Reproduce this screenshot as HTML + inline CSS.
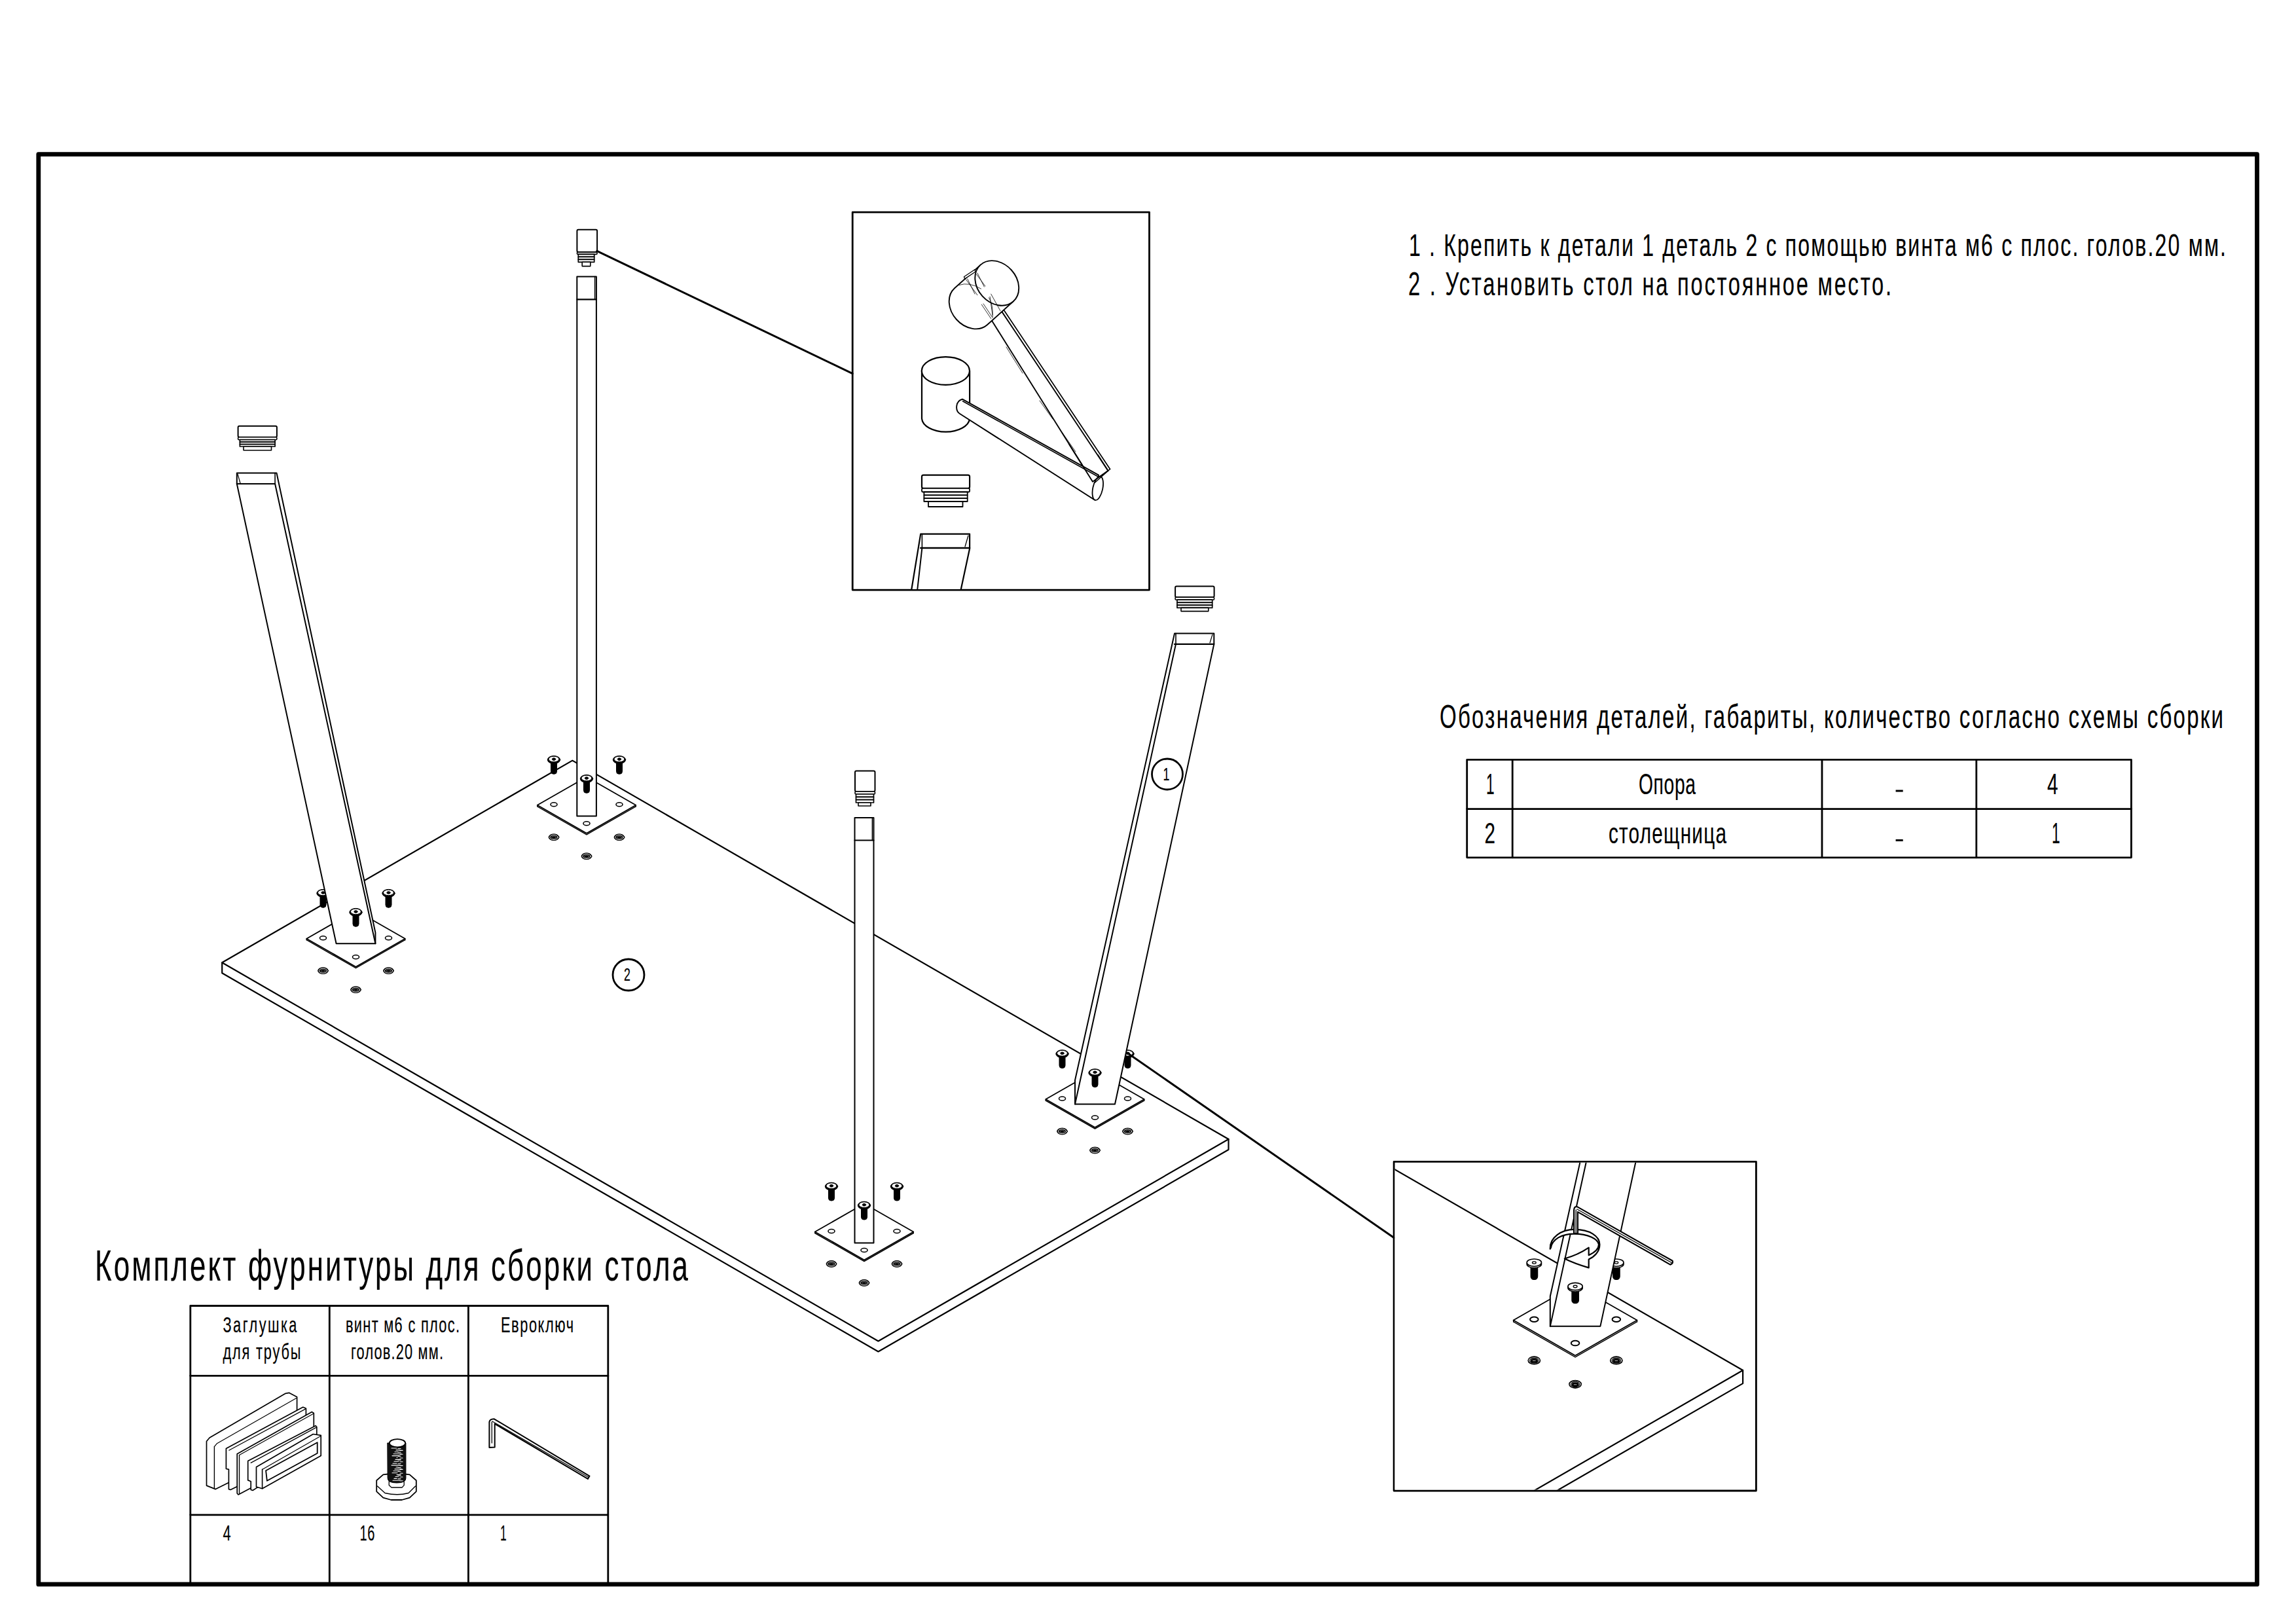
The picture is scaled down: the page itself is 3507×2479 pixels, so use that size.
<!DOCTYPE html><html><head><meta charset="utf-8"><style>html,body{margin:0;padding:0;background:#fff;}svg{display:block;}text{font-family:"Liberation Sans",sans-serif;fill:#000;}#scene *,#scene2 *{vector-effect:non-scaling-stroke}</style></head><body>
<svg width="3507" height="2479" viewBox="0 0 3507 2479">
<defs>
<g id="ph"><ellipse cx="0" cy="0" rx="5" ry="3" fill="#fff" stroke="#000" stroke-width="1.6"/></g>
<g id="cs"><ellipse cx="0" cy="0" rx="7.9" ry="4.9" fill="#000"/><ellipse cx="0" cy="0.1" rx="6.2" ry="3.6" fill="none" stroke="#fff" stroke-width="0.9"/><ellipse cx="0" cy="0.3" rx="3.6" ry="1.9" fill="none" stroke="#999" stroke-width="0.6"/></g>
<g id="sc"><rect x="-4.5" y="2" width="9" height="20.5" rx="4" fill="#000"/><ellipse cx="0" cy="0.7" rx="9.7" ry="6" fill="#000"/><ellipse cx="0" cy="-0.3" rx="8" ry="4.3" fill="#fff"/><ellipse cx="0" cy="-0.2" rx="2.7" ry="1.8" fill="#000"/></g>
<clipPath id="cb2"><rect x="2130.5" y="1775.8" width="550.5" height="499.8"/></clipPath>
<g id="scene" stroke="#000" fill="none" stroke-linejoin="round" stroke-linecap="round"><polygon points="339.2,1470.3 874.3,1161.6 1876.5,1740 1876.5,1756 1341.5,2064.5 339.2,1486.3" stroke-width="2.2" fill="#fff"/>
<polyline points="339.2,1470.3 1341.5,2048.5 1876.5,1740" stroke-width="2.2" fill="none"/>
<polygon points="468.3,1433.7 543.5,1390.7 618.7,1433.7 543.5,1476.7" stroke-width="1.8" fill="#fff"/>
<polyline points="468.3,1435.7 543.5,1478.7 618.7,1435.7" stroke-width="1.5" fill="none"/>
<line x1="468.3" y1="1433.7" x2="468.3" y2="1435.7" stroke-width="1.5"/>
<line x1="618.7" y1="1433.7" x2="618.7" y2="1435.7" stroke-width="1.5"/>
<use href="#ph" x="493.5" y="1432.7"/>
<use href="#ph" x="593.5" y="1432.7"/>
<use href="#ph" x="543.5" y="1461.7"/>
<use href="#cs" x="493.5" y="1482.7"/>
<use href="#cs" x="593.5" y="1482.7"/>
<use href="#cs" x="543.5" y="1511.7"/>
<polygon points="820.8,1229.8 896,1186.8 971.2,1229.8 896,1272.8" stroke-width="1.8" fill="#fff"/>
<polyline points="820.8,1231.8 896,1274.8 971.2,1231.8" stroke-width="1.5" fill="none"/>
<line x1="820.8" y1="1229.8" x2="820.8" y2="1231.8" stroke-width="1.5"/>
<line x1="971.2" y1="1229.8" x2="971.2" y2="1231.8" stroke-width="1.5"/>
<use href="#ph" x="846" y="1228.8"/>
<use href="#ph" x="946" y="1228.8"/>
<use href="#ph" x="896" y="1257.8"/>
<use href="#cs" x="846" y="1278.8"/>
<use href="#cs" x="946" y="1278.8"/>
<use href="#cs" x="896" y="1307.8"/>
<polygon points="1244.8,1881.5 1320,1838.5 1395.2,1881.5 1320,1924.5" stroke-width="1.8" fill="#fff"/>
<polyline points="1244.8,1883.5 1320,1926.5 1395.2,1883.5" stroke-width="1.5" fill="none"/>
<line x1="1244.8" y1="1881.5" x2="1244.8" y2="1883.5" stroke-width="1.5"/>
<line x1="1395.2" y1="1881.5" x2="1395.2" y2="1883.5" stroke-width="1.5"/>
<use href="#ph" x="1270" y="1880.5"/>
<use href="#ph" x="1370" y="1880.5"/>
<use href="#ph" x="1320" y="1909.5"/>
<use href="#cs" x="1270" y="1930.5"/>
<use href="#cs" x="1370" y="1930.5"/>
<use href="#cs" x="1320" y="1959.5"/>
<polygon points="1597.3,1679 1672.5,1636 1747.7,1679 1672.5,1722" stroke-width="1.8" fill="#fff"/>
<polyline points="1597.3,1681 1672.5,1724 1747.7,1681" stroke-width="1.5" fill="none"/>
<line x1="1597.3" y1="1679" x2="1597.3" y2="1681" stroke-width="1.5"/>
<line x1="1747.7" y1="1679" x2="1747.7" y2="1681" stroke-width="1.5"/>
<use href="#ph" x="1622.5" y="1678"/>
<use href="#ph" x="1722.5" y="1678"/>
<use href="#ph" x="1672.5" y="1707"/>
<use href="#cs" x="1622.5" y="1728"/>
<use href="#cs" x="1722.5" y="1728"/>
<use href="#cs" x="1672.5" y="1757"/>
<polygon points="881.3,422.5 910.9,422.5 910.9,1246.4 881.3,1246.4" stroke-width="2" fill="#fff"/>
<line x1="881.3" y1="457.3" x2="910.9" y2="457.3" stroke-width="2.2"/>
<line x1="908.6" y1="422.5" x2="908.6" y2="457.3" stroke-width="1.5"/>
<use href="#sc" x="846" y="1159.8"/>
<use href="#sc" x="946" y="1159.8"/>
<use href="#sc" x="896" y="1188.8"/>
<use href="#sc" x="493.5" y="1363.7"/>
<use href="#sc" x="593.5" y="1363.7"/>
<polygon points="361.8,739 361.8,722.5 422.5,722.5 573.4,1424.4 573.4,1441.3 513.6,1441.3" stroke-width="2" fill="#fff"/>
<line x1="361.8" y1="739" x2="420.1" y2="739" stroke-width="2.2"/>
<line x1="420.1" y1="722.5" x2="420.1" y2="739" stroke-width="1.6"/>
<line x1="420.1" y1="739" x2="573.4" y2="1441.3" stroke-width="2"/>
<line x1="363" y1="724" x2="367" y2="738" stroke-width="1.2"/>
<use href="#sc" x="543.5" y="1392.7"/>
<polygon points="1305.5,1249 1334.5,1249 1334.5,1898.5 1305.5,1898.5" stroke-width="2" fill="#fff"/>
<line x1="1305.5" y1="1283.5" x2="1334.5" y2="1283.5" stroke-width="2.2"/>
<line x1="1332.4" y1="1249" x2="1332.4" y2="1283.5" stroke-width="1.5"/>
<use href="#sc" x="1270" y="1811.5"/>
<use href="#sc" x="1370" y="1811.5"/>
<use href="#sc" x="1320" y="1840.5"/>
<use href="#sc" x="1622.5" y="1609"/>
<use href="#sc" x="1722.5" y="1609"/>
<polygon points="1794,967.6 1854.3,967.6 1854.3,983.9 1703,1686.5 1642,1686.5 1642,1650" stroke-width="2" fill="#fff"/>
<line x1="1794" y1="983.9" x2="1854.3" y2="983.9" stroke-width="2.2"/>
<line x1="1796" y1="967.6" x2="1796" y2="983.9" stroke-width="1.6"/>
<line x1="1796" y1="983.9" x2="1642" y2="1686.5" stroke-width="2"/>
<line x1="1852" y1="969" x2="1848" y2="982" stroke-width="1.2"/>
<use href="#sc" x="1672.5" y="1638"/>
<rect x="363.6" y="650.7" width="59.3" height="17" rx="2" stroke-width="2" fill="#fff"/>
<rect x="363.6" y="667.7" width="59.3" height="4" rx="1.5" stroke-width="1.6" fill="#fff"/>
<rect x="366.4" y="671.7" width="53.7" height="3.4" stroke-width="1.7" fill="#fff"/>
<rect x="366.4" y="675.1" width="53.7" height="3.4" stroke-width="1.7" fill="#fff"/>
<rect x="366.4" y="678.6" width="53.7" height="3.4" stroke-width="1.7" fill="#fff"/>
<rect x="372" y="682" width="42.5" height="5.7" stroke-width="1.6" fill="#fff"/>
<rect x="881.4" y="350.7" width="30.7" height="34.4" rx="2" stroke-width="2" fill="#fff"/>
<rect x="881.4" y="385.1" width="30.7" height="3.3" rx="1.5" stroke-width="1.6" fill="#fff"/>
<rect x="883.3" y="388.4" width="24.4" height="4" stroke-width="1.7" fill="#fff"/>
<rect x="883.3" y="392.4" width="24.4" height="4" stroke-width="1.7" fill="#fff"/>
<rect x="883.3" y="396.3" width="24.4" height="4" stroke-width="1.7" fill="#fff"/>
<rect x="889.2" y="400.3" width="12.6" height="6.3" stroke-width="1.6" fill="#fff"/>
<rect x="1306" y="1177.5" width="30.5" height="31.5" rx="2" stroke-width="2" fill="#fff"/>
<rect x="1306" y="1209" width="30.5" height="4" rx="1.5" stroke-width="1.6" fill="#fff"/>
<rect x="1307.5" y="1213" width="27" height="4.3" stroke-width="1.7" fill="#fff"/>
<rect x="1307.5" y="1217.3" width="27" height="4.3" stroke-width="1.7" fill="#fff"/>
<rect x="1307.5" y="1221.7" width="27" height="4.3" stroke-width="1.7" fill="#fff"/>
<rect x="1311" y="1226" width="19" height="5" stroke-width="1.6" fill="#fff"/>
<rect x="1795.1" y="895.5" width="59.5" height="16.7" rx="2" stroke-width="2" fill="#fff"/>
<rect x="1795.1" y="912.2" width="59.5" height="4" rx="1.5" stroke-width="1.6" fill="#fff"/>
<rect x="1798" y="916.2" width="53.7" height="4.1" stroke-width="1.7" fill="#fff"/>
<rect x="1798" y="920.3" width="53.7" height="4.1" stroke-width="1.7" fill="#fff"/>
<rect x="1798" y="924.3" width="53.7" height="4.1" stroke-width="1.7" fill="#fff"/>
<rect x="1804" y="928.4" width="41.8" height="5.2" stroke-width="1.6" fill="#fff"/></g>
<g id="sc2"><rect x="-4.1" y="1" width="8.3" height="19.5" rx="3.6" fill="#000"/><ellipse cx="0" cy="1.7" rx="8.9" ry="4.7" fill="#fff" stroke="#000" stroke-width="1.3"/><ellipse cx="0" cy="0" rx="8.9" ry="4.5" fill="#fff" stroke="#000" stroke-width="1.3"/><ellipse cx="0" cy="0" rx="2.3" ry="1.4" fill="#fff" stroke="#000" stroke-width="1.1"/></g>
<g id="cs2"><ellipse cx="0" cy="0" rx="7.3" ry="4.6" fill="#fff" stroke="#000" stroke-width="1.3"/><ellipse cx="0" cy="0.2" rx="5.4" ry="3.2" fill="none" stroke="#000" stroke-width="0.9"/><ellipse cx="0" cy="0.4" rx="4" ry="2.2" fill="#000"/><line x1="-1.5" y1="0.4" x2="1.5" y2="0.4" stroke="#fff" stroke-width="0.6"/></g>
<g id="scene2" stroke="#000" fill="none" stroke-linejoin="round" stroke-linecap="round"><polygon points="339.2,1470.3 874.3,1161.6 1876.5,1740 1876.5,1756 1341.5,2064.5 339.2,1486.3" stroke-width="2.2" fill="#fff"/>
<polyline points="339.2,1470.3 1341.5,2048.5 1876.5,1740" stroke-width="2.2" fill="none"/>
<polygon points="468.3,1433.7 543.5,1390.7 618.7,1433.7 543.5,1476.7" stroke-width="1.8" fill="#fff"/>
<polyline points="468.3,1435.7 543.5,1478.7 618.7,1435.7" stroke-width="1.5" fill="none"/>
<line x1="468.3" y1="1433.7" x2="468.3" y2="1435.7" stroke-width="1.5"/>
<line x1="618.7" y1="1433.7" x2="618.7" y2="1435.7" stroke-width="1.5"/>
<use href="#ph" x="493.5" y="1432.7"/>
<use href="#ph" x="593.5" y="1432.7"/>
<use href="#ph" x="543.5" y="1461.7"/>
<use href="#cs2" x="493.5" y="1482.7"/>
<use href="#cs2" x="593.5" y="1482.7"/>
<use href="#cs2" x="543.5" y="1511.7"/>
<polygon points="820.8,1229.8 896,1186.8 971.2,1229.8 896,1272.8" stroke-width="1.8" fill="#fff"/>
<polyline points="820.8,1231.8 896,1274.8 971.2,1231.8" stroke-width="1.5" fill="none"/>
<line x1="820.8" y1="1229.8" x2="820.8" y2="1231.8" stroke-width="1.5"/>
<line x1="971.2" y1="1229.8" x2="971.2" y2="1231.8" stroke-width="1.5"/>
<use href="#ph" x="846" y="1228.8"/>
<use href="#ph" x="946" y="1228.8"/>
<use href="#ph" x="896" y="1257.8"/>
<use href="#cs2" x="846" y="1278.8"/>
<use href="#cs2" x="946" y="1278.8"/>
<use href="#cs2" x="896" y="1307.8"/>
<polygon points="1244.8,1881.5 1320,1838.5 1395.2,1881.5 1320,1924.5" stroke-width="1.8" fill="#fff"/>
<polyline points="1244.8,1883.5 1320,1926.5 1395.2,1883.5" stroke-width="1.5" fill="none"/>
<line x1="1244.8" y1="1881.5" x2="1244.8" y2="1883.5" stroke-width="1.5"/>
<line x1="1395.2" y1="1881.5" x2="1395.2" y2="1883.5" stroke-width="1.5"/>
<use href="#ph" x="1270" y="1880.5"/>
<use href="#ph" x="1370" y="1880.5"/>
<use href="#ph" x="1320" y="1909.5"/>
<use href="#cs2" x="1270" y="1930.5"/>
<use href="#cs2" x="1370" y="1930.5"/>
<use href="#cs2" x="1320" y="1959.5"/>
<polygon points="1597.3,1679 1672.5,1636 1747.7,1679 1672.5,1722" stroke-width="1.8" fill="#fff"/>
<polyline points="1597.3,1681 1672.5,1724 1747.7,1681" stroke-width="1.5" fill="none"/>
<line x1="1597.3" y1="1679" x2="1597.3" y2="1681" stroke-width="1.5"/>
<line x1="1747.7" y1="1679" x2="1747.7" y2="1681" stroke-width="1.5"/>
<use href="#ph" x="1622.5" y="1678"/>
<use href="#ph" x="1722.5" y="1678"/>
<use href="#ph" x="1672.5" y="1707"/>
<use href="#cs2" x="1622.5" y="1728"/>
<use href="#cs2" x="1722.5" y="1728"/>
<use href="#cs2" x="1672.5" y="1757"/>
<polygon points="881.3,422.5 910.9,422.5 910.9,1246.4 881.3,1246.4" stroke-width="2" fill="#fff"/>
<line x1="881.3" y1="457.3" x2="910.9" y2="457.3" stroke-width="2.2"/>
<line x1="908.6" y1="422.5" x2="908.6" y2="457.3" stroke-width="1.5"/>
<use href="#sc2" x="846" y="1159.8"/>
<use href="#sc2" x="946" y="1159.8"/>
<use href="#sc2" x="896" y="1188.8"/>
<use href="#sc2" x="493.5" y="1363.7"/>
<use href="#sc2" x="593.5" y="1363.7"/>
<polygon points="361.8,739 361.8,722.5 422.5,722.5 573.4,1424.4 573.4,1441.3 513.6,1441.3" stroke-width="2" fill="#fff"/>
<line x1="361.8" y1="739" x2="420.1" y2="739" stroke-width="2.2"/>
<line x1="420.1" y1="722.5" x2="420.1" y2="739" stroke-width="1.6"/>
<line x1="420.1" y1="739" x2="573.4" y2="1441.3" stroke-width="2"/>
<line x1="363" y1="724" x2="367" y2="738" stroke-width="1.2"/>
<use href="#sc2" x="543.5" y="1392.7"/>
<polygon points="1305.5,1249 1334.5,1249 1334.5,1898.5 1305.5,1898.5" stroke-width="2" fill="#fff"/>
<line x1="1305.5" y1="1283.5" x2="1334.5" y2="1283.5" stroke-width="2.2"/>
<line x1="1332.4" y1="1249" x2="1332.4" y2="1283.5" stroke-width="1.5"/>
<use href="#sc2" x="1270" y="1811.5"/>
<use href="#sc2" x="1370" y="1811.5"/>
<use href="#sc2" x="1320" y="1840.5"/>
<use href="#sc2" x="1622.5" y="1609"/>
<use href="#sc2" x="1722.5" y="1609"/>
<polygon points="1794,967.6 1854.3,967.6 1854.3,983.9 1703,1686.5 1642,1686.5 1642,1650" stroke-width="2" fill="#fff"/>
<line x1="1794" y1="983.9" x2="1854.3" y2="983.9" stroke-width="2.2"/>
<line x1="1796" y1="967.6" x2="1796" y2="983.9" stroke-width="1.6"/>
<line x1="1796" y1="983.9" x2="1642" y2="1686.5" stroke-width="2"/>
<line x1="1852" y1="969" x2="1848" y2="982" stroke-width="1.2"/>
<use href="#sc2" x="1672.5" y="1638"/>
<rect x="363.6" y="650.7" width="59.3" height="17" rx="2" stroke-width="2" fill="#fff"/>
<rect x="363.6" y="667.7" width="59.3" height="4" rx="1.5" stroke-width="1.6" fill="#fff"/>
<rect x="366.4" y="671.7" width="53.7" height="3.4" stroke-width="1.7" fill="#fff"/>
<rect x="366.4" y="675.1" width="53.7" height="3.4" stroke-width="1.7" fill="#fff"/>
<rect x="366.4" y="678.6" width="53.7" height="3.4" stroke-width="1.7" fill="#fff"/>
<rect x="372" y="682" width="42.5" height="5.7" stroke-width="1.6" fill="#fff"/>
<rect x="881.4" y="350.7" width="30.7" height="34.4" rx="2" stroke-width="2" fill="#fff"/>
<rect x="881.4" y="385.1" width="30.7" height="3.3" rx="1.5" stroke-width="1.6" fill="#fff"/>
<rect x="883.3" y="388.4" width="24.4" height="4" stroke-width="1.7" fill="#fff"/>
<rect x="883.3" y="392.4" width="24.4" height="4" stroke-width="1.7" fill="#fff"/>
<rect x="883.3" y="396.3" width="24.4" height="4" stroke-width="1.7" fill="#fff"/>
<rect x="889.2" y="400.3" width="12.6" height="6.3" stroke-width="1.6" fill="#fff"/>
<rect x="1306" y="1177.5" width="30.5" height="31.5" rx="2" stroke-width="2" fill="#fff"/>
<rect x="1306" y="1209" width="30.5" height="4" rx="1.5" stroke-width="1.6" fill="#fff"/>
<rect x="1307.5" y="1213" width="27" height="4.3" stroke-width="1.7" fill="#fff"/>
<rect x="1307.5" y="1217.3" width="27" height="4.3" stroke-width="1.7" fill="#fff"/>
<rect x="1307.5" y="1221.7" width="27" height="4.3" stroke-width="1.7" fill="#fff"/>
<rect x="1311" y="1226" width="19" height="5" stroke-width="1.6" fill="#fff"/>
<rect x="1795.1" y="895.5" width="59.5" height="16.7" rx="2" stroke-width="2" fill="#fff"/>
<rect x="1795.1" y="912.2" width="59.5" height="4" rx="1.5" stroke-width="1.6" fill="#fff"/>
<rect x="1798" y="916.2" width="53.7" height="4.1" stroke-width="1.7" fill="#fff"/>
<rect x="1798" y="920.3" width="53.7" height="4.1" stroke-width="1.7" fill="#fff"/>
<rect x="1798" y="924.3" width="53.7" height="4.1" stroke-width="1.7" fill="#fff"/>
<rect x="1804" y="928.4" width="41.8" height="5.2" stroke-width="1.6" fill="#fff"/></g>
</defs>
<rect width="3507" height="2479" fill="#fff"/>
<g stroke="#000" fill="none" stroke-linejoin="round" stroke-linecap="round">
<rect x="58.8" y="235.6" width="3388.7" height="2184.3" stroke-width="6.8"/>
</g>
<use href="#scene"/>
<g stroke="#000" fill="none" stroke-linejoin="round" stroke-linecap="round">
<line x1="911.8" y1="383.3" x2="1302.2" y2="570.6" stroke-width="3"/>
<line x1="1723" y1="1609" x2="2129.1" y2="1890.6" stroke-width="3"/>
<rect x="1302.2" y="324.1" width="453.3" height="577" stroke-width="2.8" fill="none"/>
<rect x="2129.1" y="1774.4" width="553.3" height="502.6" stroke-width="2.8" fill="none"/>
<circle cx="1783" cy="1182.5" r="23.5" stroke-width="2.8" fill="#fff"/>
<circle cx="960" cy="1489" r="24" stroke-width="2.8" fill="#fff"/>
<rect x="2240.7" y="1160.4" width="1014.7" height="149.4" stroke-width="2.8"/>
<line x1="2240.7" y1="1235.6" x2="3255.4" y2="1235.6" stroke-width="2.8"/>
<line x1="2310.2" y1="1160.4" x2="2310.2" y2="1309.8" stroke-width="2.8"/>
<line x1="2783" y1="1160.4" x2="2783" y2="1309.8" stroke-width="2.8"/>
<line x1="3018.8" y1="1160.4" x2="3018.8" y2="1309.8" stroke-width="2.8"/>
<rect x="290.8" y="1994.5" width="638" height="425" stroke-width="2.8"/>
<line x1="290.8" y1="2101.3" x2="928.8" y2="2101.3" stroke-width="2.8"/>
<line x1="290.8" y1="2313.8" x2="928.8" y2="2313.8" stroke-width="2.8"/>
<line x1="503.3" y1="1994.5" x2="503.3" y2="2420" stroke-width="2.8"/>
<line x1="715.4" y1="1994.5" x2="715.4" y2="2420" stroke-width="2.8"/>
</g>
<g stroke="#000" fill="#fff" stroke-linejoin="round" stroke-linecap="round">
<polygon points="1513.7,487.7 1530,475.6 1692.5,719 1669,735.7" stroke-width="1.9" fill="#fff"/>
<line x1="1533.8" y1="474.2" x2="1695.5" y2="716.5" stroke-width="1.7"/>
<line x1="1537" y1="530" x2="1562" y2="570" stroke-width="0.8"/>
<line x1="1588" y1="612" x2="1608" y2="640" stroke-width="0.8"/>
<line x1="1622" y1="660" x2="1643" y2="690" stroke-width="0.8"/>
<path d="M1497.7,404.6 L1458,440.3 A37.45,29.8 48 0 0 1461,488 A37.45,29.8 48 0 0 1508.1,496 L1547.8,460.3 Z" stroke-width="1.9"/>
<ellipse cx="1522.75" cy="432.45" rx="37.45" ry="29.8" transform="rotate(48 1522.75 432.45)" stroke-width="1.9"/>
<g stroke-width="0.8" fill="none"><path d="M1464.8,435.5 Q1480,430 1498.5,441.1"/><line x1="1475.3" y1="426.7" x2="1492.9" y2="450.7"/><line x1="1477.7" y1="425.9" x2="1489" y2="449"/><line x1="1491.3" y1="418.7" x2="1504.9" y2="437.1"/><line x1="1492.9" y1="417.1" x2="1503.3" y2="438"/><line x1="1513.7" y1="449.1" x2="1528" y2="474.8"/><line x1="1512.1" y1="453.1" x2="1516" y2="481"/><line x1="1499.3" y1="465.1" x2="1513.7" y2="486.6"/><line x1="1502" y1="464" x2="1516.3" y2="485.5"/><path d="M1510.5,454.7 Q1517,465 1516.2,483.6"/></g>
<path d="M1472.5,422.7 L1488.9,411.8 L1490,415 L1473.7,425.9 Z" stroke-width="1.3"/>
<path d="M1408,566.5 L1408,639.4 A36.6,21.4 0 0 0 1481.1,639.4 L1481.1,566.5 Z" stroke-width="2.2"/>
<ellipse cx="1444.4" cy="566.5" rx="36.6" ry="21.4" stroke-width="2.2"/>
<path d="M1469.9,609.7 L1678,725.6 L1672.3,763.8 L1466.5,632.2 C1458,627 1460,612 1469.9,609.7 Z" stroke-width="1.9"/>
<line x1="1470.5" y1="612.8" x2="1678.5" y2="728.8" stroke-width="1.6"/>
<ellipse cx="1676.8" cy="745.8" rx="7.5" ry="18.5" transform="rotate(12 1676.8 745.8)" stroke-width="1.8"/>
<polyline points="1633,678.5 1669,735.7 1692.5,719 1677,695" fill="none" stroke-width="1.9"/>
<line x1="1672" y1="737.5" x2="1695.5" y2="716.5" stroke-width="1.5"/>
<rect x="1408" y="725.6" width="73.1" height="20.3" rx="2.5" stroke-width="2.2"/>
<rect x="1408" y="745.9" width="73.1" height="5.6" rx="2" stroke-width="1.8"/>
<rect x="1411.4" y="751.5" width="66.3" height="4.8" stroke-width="1.8"/>
<rect x="1411.4" y="756.3" width="66.3" height="4.8" stroke-width="1.8"/>
<rect x="1411.4" y="761.1" width="66.3" height="4.9" stroke-width="1.8"/>
<rect x="1418" y="766" width="52.5" height="8" stroke-width="1.8"/>
<path d="M1406.2,815.6 L1481.1,815.6 L1481.1,838 L1467.6,901 L1392.2,901 Z" stroke-width="2.2"/>
<line x1="1406.2" y1="837" x2="1481.1" y2="837" stroke-width="2.4"/>
<line x1="1408.4" y1="816" x2="1408.4" y2="837" stroke-width="1.6"/>
<line x1="1408.4" y1="837" x2="1401.2" y2="901" stroke-width="2"/>
<line x1="1479" y1="818" x2="1474" y2="835" stroke-width="1.3"/>
</g>
<g stroke="#000" fill="#fff" stroke-linejoin="round" stroke-linecap="round">
<polygon points="315.5,2201.5 320.1,2196 436.3,2128.3 441.8,2127.4 453.6,2133.8 453.6,2219.7 349.4,2264.6 329.3,2274.6 315.5,2269.1" stroke-width="1.7" fill="#fff"/>
<polyline points="327.4,2209.7 331.1,2205.1 452.7,2135.6" stroke-width="1.2" fill="none"/>
<line x1="327.4" y1="2209.7" x2="327.4" y2="2273.7" stroke-width="1.4"/>
<polygon points="345.4,2212.4 462.8,2149.3 467.4,2151.2 467.4,2223.4 361.3,2271 352.1,2275.5 349.4,2274.6 349.4,2244.4 345.4,2243.5" stroke-width="1.7" fill="#fff"/>
<line x1="349.8" y1="2215.2" x2="466.5" y2="2152.1" stroke-width="1.2"/>
<polygon points="362.2,2220.7 476.5,2156.6 479.3,2158.5 479.3,2227.1 381.4,2273.7 364,2282.9 362.2,2281" stroke-width="1.7" fill="#fff"/>
<line x1="365.5" y1="2222.5" x2="478.3" y2="2159.4" stroke-width="1.2"/>
<line x1="365.5" y1="2222.5" x2="365.5" y2="2281" stroke-width="1.4"/>
<polygon points="378.7,2231.6 482,2177.7 483.8,2179.5 483.8,2219.7 393.3,2271.9 386,2276.5 383.2,2275.5 383.2,2262.7 378.7,2260.9" stroke-width="1.7" fill="#fff"/>
<line x1="383.2" y1="2234.4" x2="482.9" y2="2180.4" stroke-width="1.2"/>
<polygon points="391.5,2240.8 478.3,2190.5 490.2,2192.3 490.2,2223.4 400.6,2273.7 391.5,2271" stroke-width="1.7" fill="#fff"/>
<polyline points="400.6,2244.4 490.2,2193.2" stroke-width="1.2" fill="none"/>
<line x1="400.6" y1="2244.4" x2="400.6" y2="2273.7" stroke-width="1.6"/>
<polygon points="406.1,2246.3 484.7,2203.3 484.7,2219.7 407.9,2261.8" stroke-width="1.8" fill="#fff"/>
<polygon points="575.2,2261.2 585.3,2252.4 597,2251 614,2251 625.7,2252.4 635.8,2261.2 635.8,2278.1 625.7,2287.6 613.8,2291 597.5,2291 585.3,2287.6 575.2,2278.1" stroke-width="1.8" fill="#fff"/>
<path d="M576.5,2270 L588,2280.5 Q607,2285 624,2280.5 L634.5,2270" fill="none" stroke-width="1.4"/>
<path d="M594.2,2258 L594.2,2268.6 L598,2272 L614,2272 L617.2,2268.6 L617.2,2258" fill="none" stroke-width="1.3"/>
<path d="M592.1,2204 L619.9,2204 L619.9,2258 Q619.9,2265 606,2265 Q592.1,2265 592.1,2258 Z" fill="#111" stroke-width="1"/>
<g stroke="#fff" stroke-width="1.1" fill="none"><line x1="598.0" y1="2212.0" x2="606.0" y2="2212.0"/><line x1="608.0" y1="2212.5" x2="612.0" y2="2212.5"/><line x1="605.0" y1="2214.9" x2="611.0" y2="2214.9"/><line x1="611.0" y1="2215.4" x2="615.0" y2="2215.4"/><line x1="603.0" y1="2217.8" x2="608.0" y2="2217.8"/><line x1="608.0" y1="2218.3" x2="612.0" y2="2218.3"/><line x1="601.0" y1="2220.7" x2="613.0" y2="2220.7"/><line x1="611.0" y1="2221.2" x2="615.0" y2="2221.2"/><line x1="599.0" y1="2223.6" x2="610.0" y2="2223.6"/><line x1="608.0" y1="2224.1" x2="612.0" y2="2224.1"/><line x1="606.0" y1="2226.5" x2="607.0" y2="2226.5"/><line x1="611.0" y1="2227.0" x2="615.0" y2="2227.0"/><line x1="604.0" y1="2229.4" x2="612.0" y2="2229.4"/><line x1="608.0" y1="2229.9" x2="612.0" y2="2229.9"/><line x1="602.0" y1="2232.3" x2="609.0" y2="2232.3"/><line x1="611.0" y1="2232.8" x2="615.0" y2="2232.8"/><line x1="600.0" y1="2235.2" x2="606.0" y2="2235.2"/><line x1="608.0" y1="2235.7" x2="612.0" y2="2235.7"/><line x1="598.0" y1="2238.1" x2="611.0" y2="2238.1"/><line x1="611.0" y1="2238.6" x2="615.0" y2="2238.6"/><line x1="605.0" y1="2241.0" x2="608.0" y2="2241.0"/><line x1="608.0" y1="2241.5" x2="612.0" y2="2241.5"/><line x1="603.0" y1="2243.9" x2="613.0" y2="2243.9"/><line x1="611.0" y1="2244.4" x2="615.0" y2="2244.4"/><line x1="601.0" y1="2246.8" x2="610.0" y2="2246.8"/><line x1="608.0" y1="2247.3" x2="612.0" y2="2247.3"/><line x1="599.0" y1="2249.7" x2="607.0" y2="2249.7"/><line x1="611.0" y1="2250.2" x2="615.0" y2="2250.2"/><line x1="606.0" y1="2252.6" x2="612.0" y2="2252.6"/><line x1="608.0" y1="2253.1" x2="612.0" y2="2253.1"/><line x1="604.0" y1="2255.5" x2="609.0" y2="2255.5"/><line x1="611.0" y1="2256.0" x2="615.0" y2="2256.0"/><line x1="602.0" y1="2258.4" x2="606.0" y2="2258.4"/><line x1="608.0" y1="2258.9" x2="612.0" y2="2258.9"/><line x1="600.0" y1="2261.3" x2="611.0" y2="2261.3"/><line x1="611.0" y1="2261.8" x2="615.0" y2="2261.8"/></g>
<ellipse cx="607" cy="2204.2" rx="12.2" ry="6.1" stroke-width="1.8"/>
<path d="M747.4,2172 Q748,2167.5 754.8,2167.3 L900.5,2254.6 L897.9,2258.9 L755.7,2174.8 L755.7,2210.4 L747.4,2211 Z" stroke-width="2"/>
<line x1="751.3" y1="2172" x2="751.3" y2="2204" stroke-width="1.3"/>
<line x1="752" y1="2171" x2="899" y2="2256.5" stroke-width="1.2"/>
</g>
<text transform="scale(0.66,1)" x="3260.6" y="391" font-size="48.5" stroke="#000" stroke-width="0.2" textLength="1890.9" lengthAdjust="spacing">1 . Крепить к детали 1 деталь 2 с помощью винта м6 с плос. голов.20 мм.</text>
<text transform="scale(0.66,1)" x="3259.1" y="451" font-size="49.5" stroke="#000" stroke-width="0.2" textLength="1118.2" lengthAdjust="spacing">2 . Установить стол на постоянное место.</text>
<text transform="scale(0.66,1)" x="3331.8" y="1112" font-size="50" stroke="#000" stroke-width="0.2" textLength="1813.6" lengthAdjust="spacing">Обозначения деталей, габариты, количество согласно схемы сборки</text>
<text transform="scale(0.5039118354094471,1)" x="4504.8" y="1212.6" font-size="45" stroke="#000" stroke-width="0.2" textLength="25.8" lengthAdjust="spacing">1</text>
<text transform="scale(0.6276938095985216,1)" x="3987.6" y="1212.6" font-size="45" stroke="#000" stroke-width="0.2" textLength="138.6" lengthAdjust="spacing">Опора</text>
<text transform="scale(0.66,1)" x="4737.9" y="1212.6" font-size="45" stroke="#000" stroke-width="0.2" textLength="30.3" lengthAdjust="spacing">4</text>
<text transform="scale(0.6589616309200461,1)" x="3441" y="1287.8" font-size="45" stroke="#000" stroke-width="0.2" textLength="25.8" lengthAdjust="spacing">2</text>
<text transform="scale(0.66,1)" x="3722.7" y="1287.8" font-size="45" stroke="#000" stroke-width="0.2" textLength="272.7" lengthAdjust="spacing">столещница</text>
<text transform="scale(0.5039118354094471,1)" x="6219.3" y="1287.8" font-size="45" stroke="#000" stroke-width="0.2" textLength="25.8" lengthAdjust="spacing">1</text>
<g stroke="#000" stroke-width="3"><line x1="2895.6" y1="1208" x2="2906.7" y2="1208"/><line x1="2895.6" y1="1283.5" x2="2906.7" y2="1283.5"/></g>
<text transform="scale(0.66,1)" x="219.7" y="1956.2" font-size="66.4" stroke="#000" stroke-width="0.2" textLength="1372.7" lengthAdjust="spacing">Комплект фурнитуры для сборки стола</text>
<text transform="scale(0.66,1)" x="515.9" y="2035.5" font-size="33" stroke="#000" stroke-width="0.2" textLength="171.2" lengthAdjust="spacing">Заглушка</text>
<text transform="scale(0.66,1)" x="515.9" y="2076" font-size="33" stroke="#000" stroke-width="0.2" textLength="180.3" lengthAdjust="spacing">для трубы</text>
<text transform="scale(0.66,1)" x="800" y="2035.5" font-size="33" stroke="#000" stroke-width="0.2" textLength="263.6" lengthAdjust="spacing">винт м6 с плос.</text>
<text transform="scale(0.66,1)" x="812.1" y="2076" font-size="33" stroke="#000" stroke-width="0.2" textLength="213.6" lengthAdjust="spacing">голов.20 мм.</text>
<text transform="scale(0.66,1)" x="1159.1" y="2035.5" font-size="33" stroke="#000" stroke-width="0.2" textLength="168.2" lengthAdjust="spacing">Евроключ</text>
<text transform="scale(0.66,1)" x="515.9" y="2353.4" font-size="33" stroke="#000" stroke-width="0.2" textLength="22.7" lengthAdjust="spacing">4</text>
<text transform="scale(0.607865675581326,1)" x="904" y="2353.4" font-size="33" stroke="#000" stroke-width="0.2" textLength="37.8" lengthAdjust="spacing">16</text>
<text transform="scale(0.5285788483315879,1)" x="1445.4" y="2353.4" font-size="33" stroke="#000" stroke-width="0.2" textLength="18.9" lengthAdjust="spacing">1</text>
<text transform="scale(0.66,1)" x="2691.7" y="1192" font-size="27" stroke="#000" stroke-width="0.2" textLength="16.7" lengthAdjust="spacing">1</text>
<text transform="scale(0.66,1)" x="1443.9" y="1498.5" font-size="27" stroke="#000" stroke-width="0.2" textLength="22.7" lengthAdjust="spacing">2</text>
<g clip-path="url(#cb2)"><g transform="translate(307.1,-90.7) scale(1.255)"><use href="#scene2"/></g></g>
<g stroke="#000" fill="#fff" stroke-linejoin="round" stroke-linecap="round" clip-path="url(#cb2)">
<path d="M2367.7,1907.6 C2367,1890 2385,1877.9 2405,1877.9 C2428,1877.9 2443.4,1888 2443.4,1901 C2443.4,1912 2435,1920 2426.7,1923.4 L2426.7,1936.4 Q2405,1930 2389.8,1922.5 Q2410,1917 2426.7,1905.7 L2426.7,1917.2 C2436,1913 2442,1907 2442,1901 C2441,1892 2425,1884.6 2405,1884.6 C2385,1884.6 2371,1893 2368.8,1906 Z" stroke-width="2.2"/>
<path d="M2404.1,1884.1 L2404.1,1848 Q2404.5,1843 2408.5,1842.9 L2554.6,1925.8 Q2556,1930 2551.2,1931.6 L2409.9,1851.1 L2409.9,1884.1 Z" stroke-width="2.2"/>
<line x1="2407.2" y1="1848" x2="2407.2" y2="1884" stroke-width="1.3"/>
<line x1="2409" y1="1847" x2="2553" y2="1928.5" stroke-width="1.3"/>
</g>
</svg></body></html>
